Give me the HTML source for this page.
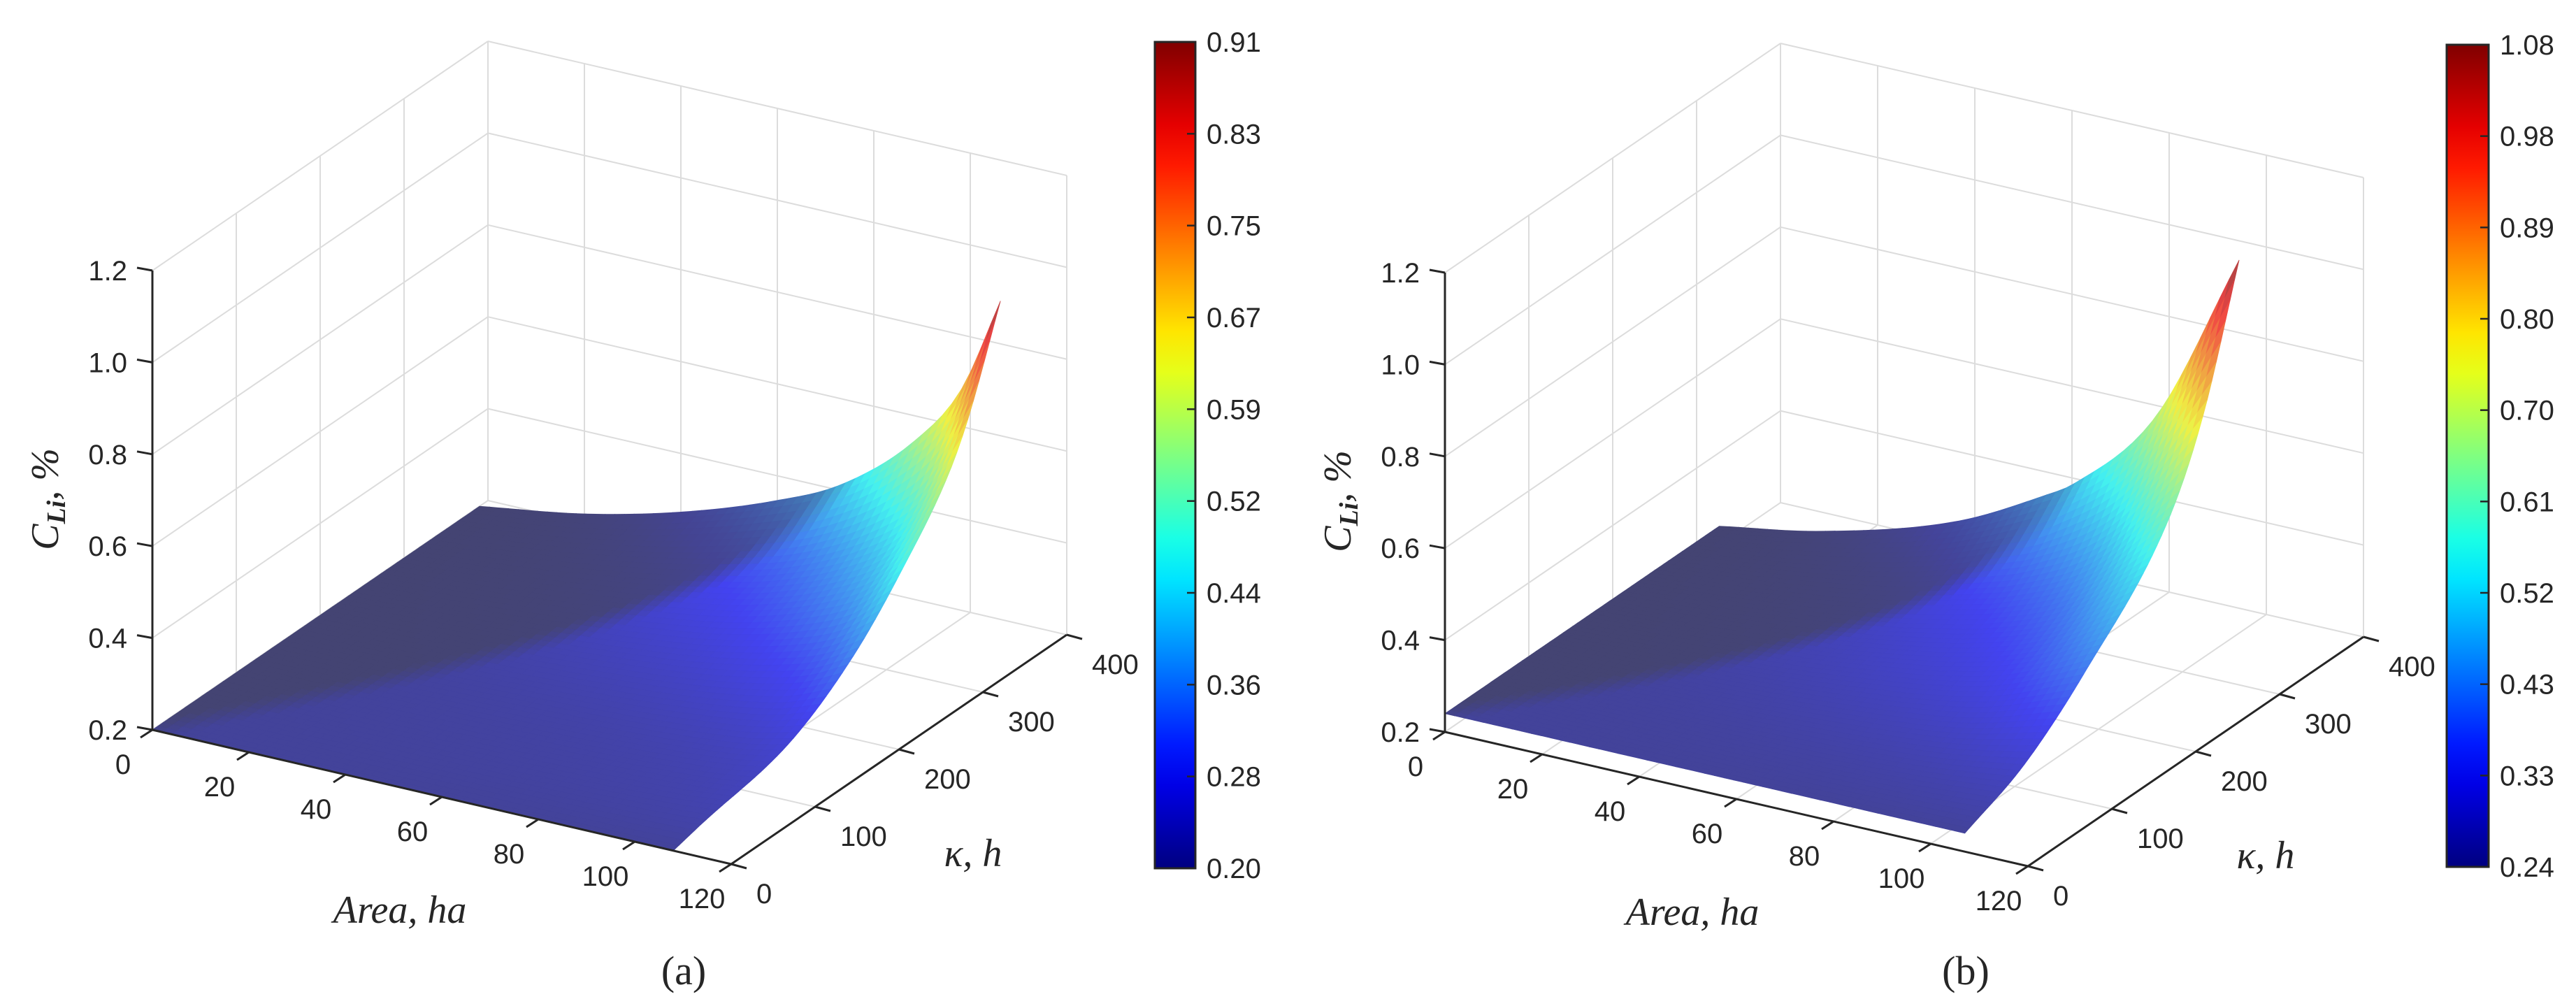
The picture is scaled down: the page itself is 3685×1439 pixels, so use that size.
<!DOCTYPE html>
<html><head><meta charset="utf-8"><style>
html,body{margin:0;padding:0;background:#fff;}
svg{display:block;}
text{font-family:"Liberation Sans",sans-serif;fill:#262626;}
.ser{font-family:"Liberation Serif",serif;}
</style></head><body>
<svg id="fig" width="3685" height="1439" viewBox="0 0 3685 1439" xmlns="http://www.w3.org/2000/svg">
<rect width="3685" height="1439" fill="#fff"/>
</svg>
<script>
// ---- data ----
const areaTicks = [0,20,40,60,80,100,120];
const kappaTicks = [0,100,200,300,400];
const zTicks = [0.2,0.4,0.6,0.8,1.0,1.2];
const zTickLabels = ["0.2","0.4","0.6","0.8","1.0","1.2"];
// panel (a)
const areaA = [0,22,42,61,75,90,100,108];
const zBackA = [0.20,0.237,0.29,0.36,0.43,0.56,0.70,0.91];
const kappaA = [0,31,142,217,272,328,351,390];
const zEdgeA = [0.20,0.215,0.265,0.36,0.47,0.61,0.70,0.91];
const cbarA = ["0.20","0.28","0.36","0.44","0.52","0.59","0.67","0.75","0.83","0.91"];
// panel (b)
const areaB = [0,21,49,67,73,90,107];
const zBackB = [0.24,0.28,0.37,0.47,0.51,0.70,1.08];
const kappaB = [0,70,142,246,285,327];
const zEdgeB = [0.24,0.30,0.41,0.63,0.80,1.08];
const cbarB = ["0.24","0.33","0.43","0.52","0.61","0.70","0.80","0.89","0.98","1.08"];

const NS = "http://www.w3.org/2000/svg";
const svg = document.getElementById('fig');
function mk(tag, attrs, parent){
  const e = document.createElementNS(NS, tag);
  for (const k in attrs) e.setAttribute(k, attrs[k]);
  (parent||svg).appendChild(e);
  return e;
}
function makeInterp(xs, ys){
  const n=xs.length, d=[], m=new Array(n);
  for(let i=0;i<n-1;i++) d.push((ys[i+1]-ys[i])/(xs[i+1]-xs[i]));
  m[0]=d[0]; m[n-1]=d[n-2];
  for(let i=1;i<n-1;i++) m[i]=(d[i-1]*d[i]<=0)?0:(d[i-1]+d[i])/2;
  for(let i=0;i<n-1;i++){
    if(d[i]===0){m[i]=0;m[i+1]=0;continue;}
    const a=m[i]/d[i], b=m[i+1]/d[i], s=a*a+b*b;
    if(s>9){const t=3/Math.sqrt(s); m[i]=t*a*d[i]; m[i+1]=t*b*d[i];}
  }
  return function(x){
    if(x<=xs[0]) return ys[0];
    if(x>=xs[n-1]) return ys[n-1];
    let i=0; while(x>xs[i+1]) i++;
    const h=xs[i+1]-xs[i], t=(x-xs[i])/h, t2=t*t, t3=t2*t;
    return (2*t3-3*t2+1)*ys[i]+(t3-2*t2+t)*h*m[i]+(-2*t3+3*t2)*ys[i+1]+(t3-t2)*h*m[i+1];
  };
}
function jet(t){
  t=Math.max(0,Math.min(1,t));
  const c=v=>Math.max(0,Math.min(1,1.5-Math.abs(v)));
  return [c(4*t-3),c(4*t-2),c(4*t-1)];
}

function panel(P){
  const g = mk('g',{});
  
  
  const X = (a,k,z)=>P.ox + a*P.ax + k*1.2;
  const Y = (a,k,z)=>P.oy + a*1.6 - k*0.82 - (z-0.2)*657;
  const grid = mk('g',{stroke:'#dcdcdc','stroke-width':2,fill:'none'},g);
  
  
  zTicks.forEach(z=>{
    if (z>0.2){
      mk('line',{x1:X(0,0,z),y1:Y(0,0,z),x2:X(0,400,z),y2:Y(0,400,z)},grid);
      mk('line',{x1:X(0,400,z),y1:Y(0,400,z),x2:X(120,400,z),y2:Y(120,400,z)},grid);
    }
  });
  kappaTicks.forEach(k=>{
    if (k>0) mk('line',{x1:X(0,k,0.2),y1:Y(0,k,0.2),x2:X(0,k,1.2),y2:Y(0,k,1.2)},grid);
    mk('line',{x1:X(0,k,0.2),y1:Y(0,k,0.2),x2:X(120,k,0.2),y2:Y(120,k,0.2)},grid);
  });
  areaTicks.forEach(a=>{
    mk('line',{x1:X(a,400,0.2),y1:Y(a,400,0.2),x2:X(a,400,1.2),y2:Y(a,400,1.2)},grid);
    mk('line',{x1:X(a,0,0.2),y1:Y(a,0,0.2),x2:X(a,400,0.2),y2:Y(a,400,0.2)},grid);
  });
  const sg = mk('g',{},g);
  
  
  const aMax = P.areas[P.areas.length-1], kMax = P.kaps[P.kaps.length-1];
  const zmin = P.zBack[0], zmax = P.zBack[P.zBack.length-1];
  const fA = makeInterp(P.areas,P.zBack), fK = makeInterp(P.kaps,P.zEdge);
  const NA=54, NK=60;
  const Z=(a,k)=>zmin + (fA(a)-zmin)*(fK(k)-zmin)/(zmax-zmin);
  const quads=[];
  for(let i=0;i<NA;i++){for(let j=0;j<NK;j++){
    const a0=aMax*i/NA,a1=aMax*(i+1)/NA,k0=kMax*j/NK,k1=kMax*(j+1)/NK;
    const pts=[[a0,k0],[a1,k0],[a1,k1],[a0,k1]];
    const am=(a0+a1)/2, km=(k0+k1)/2, zm=Z(am,km);
    quads.push({pts,am,km,zm,d:1.6*am-0.82*km});
  }}
  quads.sort((p,q)=>p.d-q.d);
  quads.forEach(q=>{
    const t=(q.zm-P.cmin)/(P.cmax-P.cmin);
    const c=jet(t);
    let col=c.map(v=>v*255*0.72+255*0.28);
    const an=q.am/aMax, kn=q.km/kMax;
    let s=Math.max(0,Math.min(1,(kn*0.7-an)/0.08+0.5));
    s*=Math.max(0,1-(q.zm-zmin)/0.35);
    const dark=[72,72,122];
    col=col.map((v,i)=>v*(1-s)+dark[i]*s);
    col=col.map(v=>Math.round(v*0.94));
    const d=q.pts.map((p,i)=>(i?'L':'M')+X(p[0],p[1],Z(p[0],p[1])).toFixed(1)+' '+Y(p[0],p[1],Z(p[0],p[1])).toFixed(1)).join('')+'Z';
    const f='rgb('+col.join(',')+')';
    mk('path',{d,fill:f,stroke:f,'stroke-width':0.8},sg);
  });
  const ax = mk('g',{stroke:'#262626','stroke-width':3,fill:'none'},g);
  
  
  mk('line',{x1:X(0,0,0.2),y1:Y(0,0,0.2),x2:X(0,0,1.2),y2:Y(0,0,1.2)},ax);
  mk('line',{x1:X(0,0,0.2),y1:Y(0,0,0.2),x2:X(120,0,0.2),y2:Y(120,0,0.2)},ax);
  mk('line',{x1:X(120,0,0.2),y1:Y(120,0,0.2),x2:X(120,400,0.2),y2:Y(120,400,0.2)},ax);
  zTicks.forEach((z,i)=>{
    const x=X(0,0,z), y=Y(0,0,z);
    mk('line',{x1:x,y1:y,x2:x-22,y2:y-4},ax);
    const t=mk('text',{x:x-36,y:y+14,'font-size':40,'text-anchor':'end'},g);
    t.textContent=zTickLabels[i];
    
    
  });
  areaTicks.forEach(a=>{
    const x=X(a,0,0.2), y=Y(a,0,0.2);
    mk('line',{x1:x,y1:y,x2:x-17,y2:y+11},ax);
    const t=mk('text',{x:x-42,y:y+63,'font-size':40,'text-anchor':'middle'},g);
    t.textContent=a;
    
    
  });
  kappaTicks.forEach(k=>{
    const x=X(120,k,0.2), y=Y(120,k,0.2);
    mk('line',{x1:x,y1:y,x2:x+22,y2:y+6},ax);
    const t=mk('text',{x:x+36,y:y+56,'font-size':40,'text-anchor':'start'},g);
    t.textContent=k;
    
    
  });
  const zl=mk('text',{class:'ser',transform:`translate(${P.ox-135},${P.oy-330}) rotate(-90)`,'font-size':56,'font-style':'italic','text-anchor':'middle'},g);
  zl.innerHTML='C<tspan font-size="38" font-weight="bold" dy="10">Li</tspan><tspan dy="-10">,  %</tspan>';
  
  
  const al=mk('text',{class:'ser',x:P.ox+354,y:P.oy+276,'font-size':56,'font-style':'italic','text-anchor':'middle'},g);
  al.textContent='Area,  ha';
  
  
  const kl=mk('text',{class:'ser',x:P.ox+1174,y:P.oy+195,'font-size':56,'font-style':'italic','text-anchor':'middle'},g);
  kl.textContent='κ,  h';
  
  
  const cap=mk('text',{class:'ser',x:P.capX,y:1408,'font-size':58,'text-anchor':'middle'},g);
  cap.textContent=P.caption;
  
  
  const cb=mk('g',{},g);
  
  
  const gid='jet'+P.caption.replace(/\W/g,'');
  const lg=mk('linearGradient',{id:gid,x1:0,y1:1,x2:0,y2:0},mk('defs',{},cb));
  for(let i=0;i<=20;i++){const c=jet(i/20).map(v=>Math.round(v*255));mk('stop',{offset:i/20,'stop-color':`rgb(${c})`},lg);}
  mk('rect',{x:P.cbX,y:P.cbY0,width:P.cbW,height:P.cbY1-P.cbY0,fill:`url(#${gid})`,stroke:'#262626','stroke-width':3},cb);
  P.cbar.forEach((lab,i)=>{
    const y=P.cbY1-(P.cbY1-P.cbY0)*i/(P.cbar.length-1);
    if(i>0&&i<P.cbar.length-1) mk('line',{x1:P.cbX+P.cbW-12,y1:y,x2:P.cbX+P.cbW,y2:y,stroke:'#262626','stroke-width':2.5},cb);
    const t=mk('text',{x:P.cbX+P.cbW+16,y:y+14,'font-size':40},cb);
    t.textContent=lab;
    
    
  });
}
panel({name:'panel-a',ox:218,oy:1044,ax:6.9,areas:areaA,zBack:zBackA,kaps:kappaA,zEdge:zEdgeA,cmin:0.20,cmax:0.91,cbar:cbarA,cbX:1652,cbY0:60,cbY1:1242,cbW:58,caption:'(a)',capX:978});
panel({name:'panel-b',ox:2067,oy:1047,ax:6.95,areas:areaB,zBack:zBackB,kaps:kappaB,zEdge:zEdgeB,cmin:0.24,cmax:1.08,cbar:cbarB,cbX:3500,cbY0:64,cbY1:1240,cbW:60,caption:'(b)',capX:2812});
</script>
</body></html>
